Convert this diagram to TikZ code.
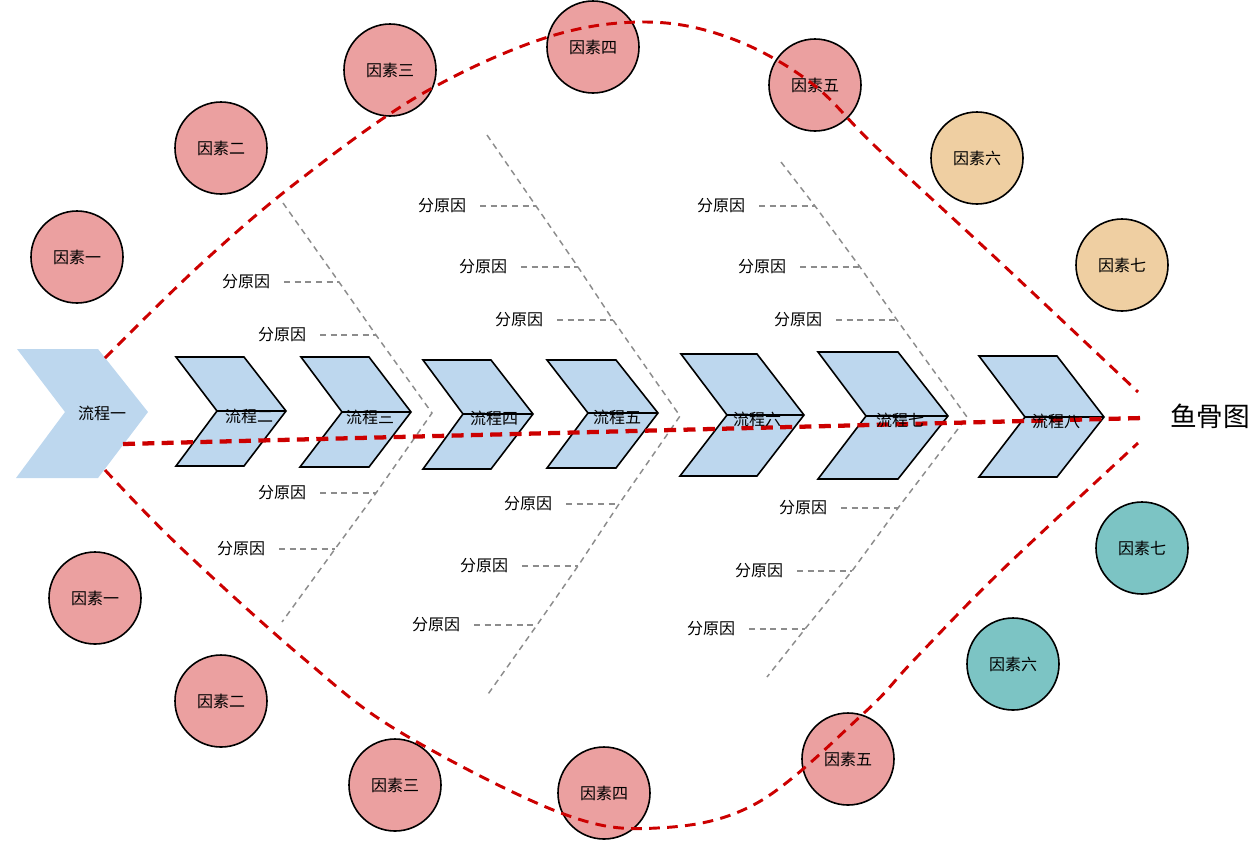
\documentclass[tikz,border=0pt]{standalone}
\usepackage{fontspec}
\setmainfont{Noto Sans CJK SC}
\definecolor{procblue}{HTML}{BDD7EE}
\definecolor{factpink}{HTML}{EBA0A0}
\definecolor{facttan}{HTML}{EFCFA2}
\definecolor{factteal}{HTML}{7CC4C4}
\definecolor{fishred}{HTML}{CC0000}
\definecolor{bonegrey}{HTML}{8C8C8C}
\begin{document}
\begin{tikzpicture}[x=0.75pt, y=-0.75pt,
    factor/.style={circle, draw, line width=1.2pt, minimum size=69pt, inner sep=0pt, font=\fontsize{12}{14}\selectfont},
    proc/.style={draw, line width=1.2pt, fill=procblue, line join=miter},
    procmid/.style={line width=2pt},
    proclbl/.style={inner sep=0pt, font=\fontsize{12}{14}\selectfont},
    bone/.style={draw=bonegrey, line width=1.1pt, dash pattern=on 4.5pt off 3.5pt},
    sub/.style={inner sep=0pt, outer sep=10.5pt, font=\fontsize{12}{14}\selectfont},
    outline/.style={draw=fishred, line width=2.2pt, dash pattern=on 8pt off 5.5pt},
    spine/.style={draw=fishred, line width=3.2pt, dash pattern=on 9pt off 5.5pt}]
  \useasboundingbox (0,0) rectangle (1260,840);

  % bone 1
  \coordinate (b1t) at (283,203);
  \coordinate (b1u1) at (339,282);
  \coordinate (b1u2) at (376,335);
  \coordinate (b1m) at (432,413);
  \coordinate (b1l1) at (376,493);
  \coordinate (b1l2) at (335,549);
  \coordinate (b1b) at (282,622);
  \draw[bone] (b1t) -- (b1u1) -- (b1u2) -- (b1m) -- (b1l1) -- (b1l2) -- (b1b);
  \node[sub] (s11) at (246,282) {分原因};
  \node[sub] (s12) at (282,335) {分原因};
  \node[sub] (s13) at (282,493) {分原因};
  \node[sub] (s14) at (241,549) {分原因};
  \draw[bone] (s11) -- (b1u1);
  \draw[bone] (s12) -- (b1u2);
  \draw[bone] (s13) -- (b1l1);
  \draw[bone] (s14) -- (b1l2);

  % bone 2
  \coordinate (b2t) at (487,135);
  \coordinate (b2u1) at (536,206);
  \coordinate (b2u2) at (578,267);
  \coordinate (b2u3) at (613,320);
  \coordinate (b2m) at (680,416);
  \coordinate (b2l1) at (619,504);
  \coordinate (b2l2) at (578,566);
  \coordinate (b2l3) at (537,625);
  \coordinate (b2b) at (486,697);
  \draw[bone] (b2t) -- (b2u1) -- (b2u2) -- (b2u3) -- (b2m) -- (b2l1) -- (b2l2) -- (b2l3) -- (b2b);
  \node[sub] (s21) at (442,206) {分原因};
  \node[sub] (s22) at (483,267) {分原因};
  \node[sub] (s23) at (519,320) {分原因};
  \node[sub] (s24) at (528,504) {分原因};
  \node[sub] (s25) at (484,566) {分原因};
  \node[sub] (s26) at (436,625) {分原因};
  \draw[bone] (s21) -- (b2u1);
  \draw[bone] (s22) -- (b2u2);
  \draw[bone] (s23) -- (b2u3);
  \draw[bone] (s24) -- (b2l1);
  \draw[bone] (s25) -- (b2l2);
  \draw[bone] (s26) -- (b2l3);

  % bone 3
  \coordinate (b3t) at (781,162);
  \coordinate (b3u1) at (815,206);
  \coordinate (b3u2) at (860,267);
  \coordinate (b3u3) at (897,320);
  \coordinate (b3m) at (967,417);
  \coordinate (b3l1) at (898,508);
  \coordinate (b3l2) at (852,571);
  \coordinate (b3l3) at (805,629);
  \coordinate (b3b) at (767,677);
  \draw[bone] (b3t) -- (b3u1) -- (b3u2) -- (b3u3) -- (b3m) -- (b3l1) -- (b3l2) -- (b3l3) -- (b3b);
  \node[sub] (s31) at (721,206) {分原因};
  \node[sub] (s32) at (762,267) {分原因};
  \node[sub] (s33) at (798,320) {分原因};
  \node[sub] (s34) at (803,508) {分原因};
  \node[sub] (s35) at (759,571) {分原因};
  \node[sub] (s36) at (711,629) {分原因};
  \draw[bone] (s31) -- (b3u1);
  \draw[bone] (s32) -- (b3u2);
  \draw[bone] (s33) -- (b3u3);
  \draw[bone] (s34) -- (b3l1);
  \draw[bone] (s35) -- (b3l2);
  \draw[bone] (s36) -- (b3l3);

  % process chevrons
  \fill[procblue] (17,349) -- (98,349) -- (148,412) -- (98,478) -- (16,478) -- (65,412) -- cycle;
  \draw[proc] (176,357) -- (244,357) -- (286,411) -- (244,466) -- (176,466) -- (217,411) -- cycle;
  \draw[procmid] (217,411) -- (286,411);
  \draw[proc] (301,357) -- (369,357) -- (411,412) -- (369,467) -- (300,467) -- (342,412) -- cycle;
  \draw[procmid] (342,412) -- (411,412);
  \draw[proc] (423,360) -- (491,360) -- (533,414) -- (491,469) -- (423,469) -- (463,414) -- cycle;
  \draw[procmid] (463,414) -- (533,414);
  \draw[proc] (547,360) -- (616,360) -- (658,413) -- (616,468) -- (547,468) -- (588,413) -- cycle;
  \draw[procmid] (588,413) -- (658,413);
  \draw[proc] (681,354) -- (757,354) -- (804,415) -- (757,476) -- (680,476) -- (727,415) -- cycle;
  \draw[procmid] (727,415) -- (804,415);
  \draw[proc] (818,352) -- (898,352) -- (948,416) -- (898,479) -- (818,479) -- (866,416) -- cycle;
  \draw[procmid] (866,416) -- (948,416);
  \draw[proc] (979,356) -- (1057,356) -- (1104,417) -- (1057,477) -- (979,477) -- (1025,417) -- cycle;
  \draw[procmid] (1025,417) -- (1104,417);

  % factors
  \node[factor, fill=factpink] (u1) at (77,257) {因素一};
  \node[factor, fill=factpink] (u2) at (221,148) {因素二};
  \node[factor, fill=factpink] (u3) at (390,70) {因素三};
  \node[factor, fill=factpink] (u4) at (593,47) {因素四};
  \node[factor, fill=factpink] (u5) at (815,85) {因素五};
  \node[factor, fill=facttan] (u6) at (977,158) {因素六};
  \node[factor, fill=facttan] (u7) at (1122,265) {因素七};
  \node[factor, fill=factpink] (d1) at (95,598) {因素一};
  \node[factor, fill=factpink] (d2) at (221,701) {因素二};
  \node[factor, fill=factpink] (d3) at (395,785) {因素三};
  \node[factor, fill=factpink] (d4) at (604,793) {因素四};
  \node[factor, fill=factpink] (d5) at (848,759) {因素五};
  \node[factor, fill=factteal] (d6) at (1013,664) {因素六};
  \node[factor, fill=factteal] (d7) at (1142,548) {因素七};

  % fish outline and spine
  \draw[outline] plot[smooth, tension=0.6] coordinates {(105,358) (200,265) (297,182) (420,95) (545,38) (645,22) (730,38) (810,82) (877,148) (1000,262) (1138,392)};
  \draw[outline] plot[smooth, tension=0.6] coordinates {(105,470) (180,547) (303,658) (400,732) (561,813) (657,828) (757,803) (864,713) (914,660) (1000,572) (1138,443)};
  \coordinate (tail) at (123,444);
  \coordinate (head) at (1143,418);
  \draw[spine] (tail) -- (head);

  % labels
  \node[proclbl] (p1) at (102,413) {流程一};
  \node[proclbl] (p2) at (249,416) {流程二};
  \node[proclbl] (p3) at (370,417) {流程三};
  \node[proclbl] (p4) at (494,418) {流程四};
  \node[proclbl] (p5) at (617,417) {流程五};
  \node[proclbl] (p6) at (757,419) {流程六};
  \node[proclbl] (p7) at (900,420) {流程七};
  \node[proclbl] (p8) at (1056,421) {流程八};
  \node[inner sep=0pt, font=\fontsize{20}{24}\selectfont] (title) at (1210,416) {鱼骨图};
\end{tikzpicture}
\end{document}
